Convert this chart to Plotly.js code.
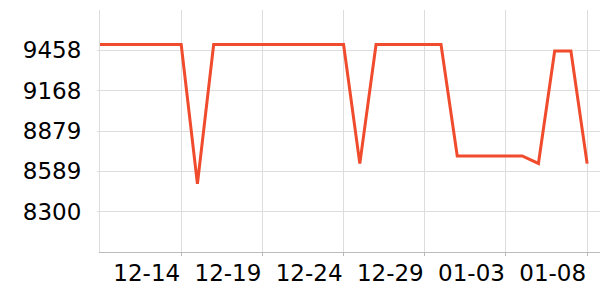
<!DOCTYPE html>
<html>
<head>
<meta charset="utf-8">
<script src="https://cdn.plot.ly/plotly-3.0.1.min.js"></script>
<style>html,body{margin:0;padding:0;background:#fff;}#chart{width:600px;height:300px;}</style>
</head>
<body>
<div id="chart"></div>
<script>
const dates = ["2023-12-09","2023-12-10","2023-12-11","2023-12-12","2023-12-13","2023-12-14","2023-12-15","2023-12-16","2023-12-17","2023-12-18","2023-12-19","2023-12-20","2023-12-21","2023-12-22","2023-12-23","2023-12-24","2023-12-25","2023-12-26","2023-12-27","2023-12-28","2023-12-29","2023-12-30","2023-12-31","2024-01-01","2024-01-02","2024-01-03","2024-01-04","2024-01-05","2024-01-06","2024-01-07","2024-01-08"];
const values = [9500,9500,9500,9500,9500,9500,8500,9500,9500,9500,9500,9500,9500,9500,9500,9500,8645,9500,9500,9500,9500,9500,8700,8700,8700,8700,8700,8646,9453,9453,8645];
const xTicks = ["2023-12-14","2023-12-19","2023-12-24","2023-12-29","2024-01-03","2024-01-08"];
const xTickText = ["12-14","12-19","12-24","12-29","01-03","01-08"];
const yTicks = [8300, 8589, 8879, 9168, 9458];
const yRange = [8010.5, 9747.5];
const xRange = ["2023-12-09", "2024-01-08 19:00"];

Plotly.newPlot("chart", [{
  x: dates, y: values, type: "scatter", mode: "lines",
  line: {color: "#ef4b2c", width: 3},
  hoverinfo: "skip"
}], {
  width: 600, height: 300,
  margin: {l: 100, r: 0, t: 10, b: 48},
  paper_bgcolor: "#fff", plot_bgcolor: "#fff",
  showlegend: false,
  font: {family: "DejaVu Sans", size: 23, color: "#000"},
  xaxis: {
    type: "date", range: xRange,
    tickvals: xTicks, ticktext: xTickText,
    ticklabelposition: "outside left",
    showgrid: true, gridcolor: "#dddddd", gridwidth: 1,
    showline: true, linecolor: "#bbbbbb", linewidth: 1,
    ticks: "outside", ticklen: 3, tickcolor: "#bbbbbb",
    zeroline: false, fixedrange: true
  },
  yaxis: {
    range: yRange, tickvals: yTicks, ticktext: yTicks.map(String),
    showgrid: true, gridcolor: "#dddddd", gridwidth: 1,
    showline: true, linecolor: "#dddddd", linewidth: 1,
    ticks: "outside", ticklen: 2, tickcolor: "#dddddd",
    ticklabelstandoff: 11,
    zeroline: false, fixedrange: true
  }
}, {displayModeBar: false, staticPlot: true});
</script>
</body>
</html>
